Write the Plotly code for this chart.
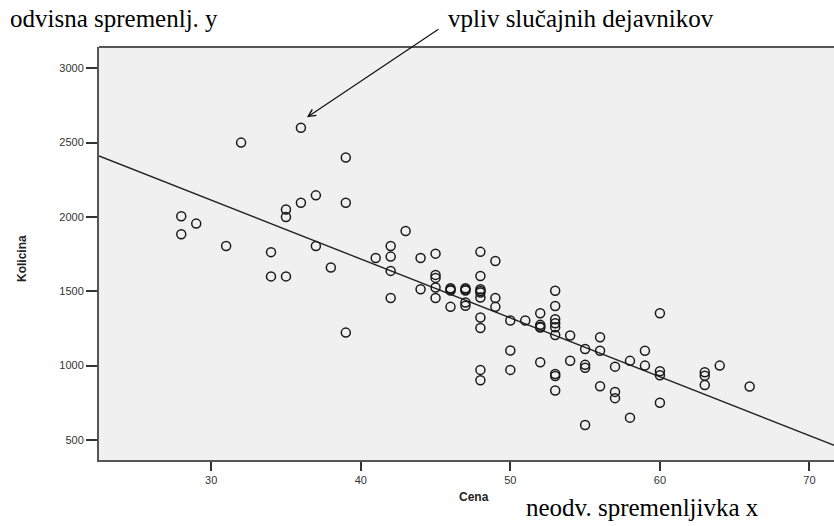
import plotly.graph_objects as go
import numpy as np

# Data (Cena = price, Kolicina = quantity)
cena = [28, 28, 29, 31, 32, 34, 34, 35, 35, 35, 36, 36, 37, 37, 38,
        39, 39, 39, 41, 42, 42, 42, 42, 43, 44, 44,
        45, 45, 45, 45, 45, 46, 46, 46, 46, 47, 47, 47, 47, 47,
        48, 48, 48, 48, 48, 48, 48, 48, 48, 48,
        49, 49, 49, 50, 50, 50, 51,
        52, 52, 52, 52, 52,
        53, 53, 53, 53, 53, 53, 53, 53, 53,
        54, 54, 55, 55, 55, 55, 56, 56, 56, 57, 57, 57, 58, 58, 59, 59,
        60, 60, 60, 60, 63, 63, 63, 64, 66]
kolicina = [2005, 1884, 1955, 1805, 2500, 1763, 1600, 2050, 2000, 1600, 2600, 2095, 2145, 1805, 1660,
            2400, 2095, 1222, 1724, 1805, 1733, 1637, 1455, 1905, 1724, 1514,
            1753, 1610, 1590, 1525, 1455, 1520, 1505, 1512, 1395, 1520, 1505, 1512, 1424, 1402,
            1765, 1603, 1514, 1492, 1502, 1458, 1323, 1253, 971, 901,
            1704, 1455, 1395, 1303, 1101, 971, 1303,
            1352, 1274, 1256, 1262, 1023,
            1503, 1401, 1312, 1285, 1258, 1206, 944, 930, 832,
            1202, 1033, 1112, 1005, 985, 600, 1191, 1100, 861, 993, 823, 781, 1032, 650, 1100, 1000,
            1352, 962, 935, 750, 955, 932, 870, 1000, 859]

# Fitted regression line
reg_intercept = 3301
reg_slope = -39.6
line_x = [22.5, 72]

x_ticks = [30, 40, 50, 60, 70]
y_ticks = [500, 1000, 1500, 2000, 2500, 3000]

line_y = [reg_intercept + reg_slope * v for v in line_x]

fig = go.Figure()
fig.add_trace(go.Scatter(
    x=line_x, y=line_y, mode="lines",
    line=dict(color="#222222", width=1.4), hoverinfo="skip", showlegend=False))
fig.add_trace(go.Scatter(
    x=cena, y=kolicina, mode="markers",
    marker=dict(symbol="circle-open", size=9, color="#1a1a1a", line=dict(width=1.5)),
    showlegend=False))

axis_font = dict(family="Arial, Liberation Sans, sans-serif", size=11, color="#333333")
serif = dict(family="Liberation Serif, Times New Roman, serif", size=25, color="#000000")

fig.update_layout(
    width=834, height=526,
    margin=dict(l=99, r=0, t=47, b=66, autoexpand=False),
    paper_bgcolor="white",
    plot_bgcolor="#f0f0f0",
    xaxis=dict(range=[22.5, 71.64], tickvals=x_ticks, ticks="outside", ticklen=9,
               tickwidth=1.5, tickcolor="#333333", showgrid=False, zeroline=False,
               showline=True, linecolor="#555555", linewidth=2, tickfont=axis_font),
    yaxis=dict(range=[365, 3143], tickvals=y_ticks, ticks="outside", ticklen=11,
               tickwidth=1.5, tickcolor="#333333", showgrid=False, zeroline=False,
               showline=True, linecolor="#555555", linewidth=2, tickfont=axis_font),
    shapes=[dict(type="line", xref="paper", yref="paper", x0=0, x1=1.05, y0=1, y1=1,
                 line=dict(color="#555555", width=2))],
    annotations=[
        dict(text="odvisna spremenlj. y", xref="paper", yref="paper", x=-0.1238, y=1.07,
             xanchor="left", yanchor="middle", showarrow=False, font=serif),
        dict(text="vpliv slučajnih dejavnikov", xref="paper", yref="paper", x=0.4721, y=1.07,
             xanchor="left", yanchor="middle", showarrow=False, font=serif),
        dict(text="neodv. spremenljivka x", xref="paper", yref="paper", x=0.5782, y=-0.1162,
             xanchor="left", yanchor="middle", showarrow=False, font=serif),
        dict(text="<b>Cena</b>", xref="paper", yref="paper", x=0.5102, y=-0.0896,
             xanchor="center", yanchor="middle", showarrow=False,
             font=dict(family="Arial, Liberation Sans, sans-serif", size=12, color="#222222")),
        dict(text="<b>Kolicina</b>", xref="paper", yref="paper", x=-0.1048, y=0.489,
             xanchor="center", yanchor="middle", showarrow=False, textangle=-90,
             font=dict(family="Arial, Liberation Sans, sans-serif", size=12, color="#222222")),
        dict(text="", x=36.4, y=2670, xref="x", yref="y", showarrow=True,
             ax=133, ay=-89, arrowhead=5, arrowsize=1.2, arrowwidth=1.2,
             arrowcolor="#111111", standoff=0),
    ],
)

fig.write_html("out.html", config={"displayModeBar": False},
               post_script="document.body.style.margin='0px';")
